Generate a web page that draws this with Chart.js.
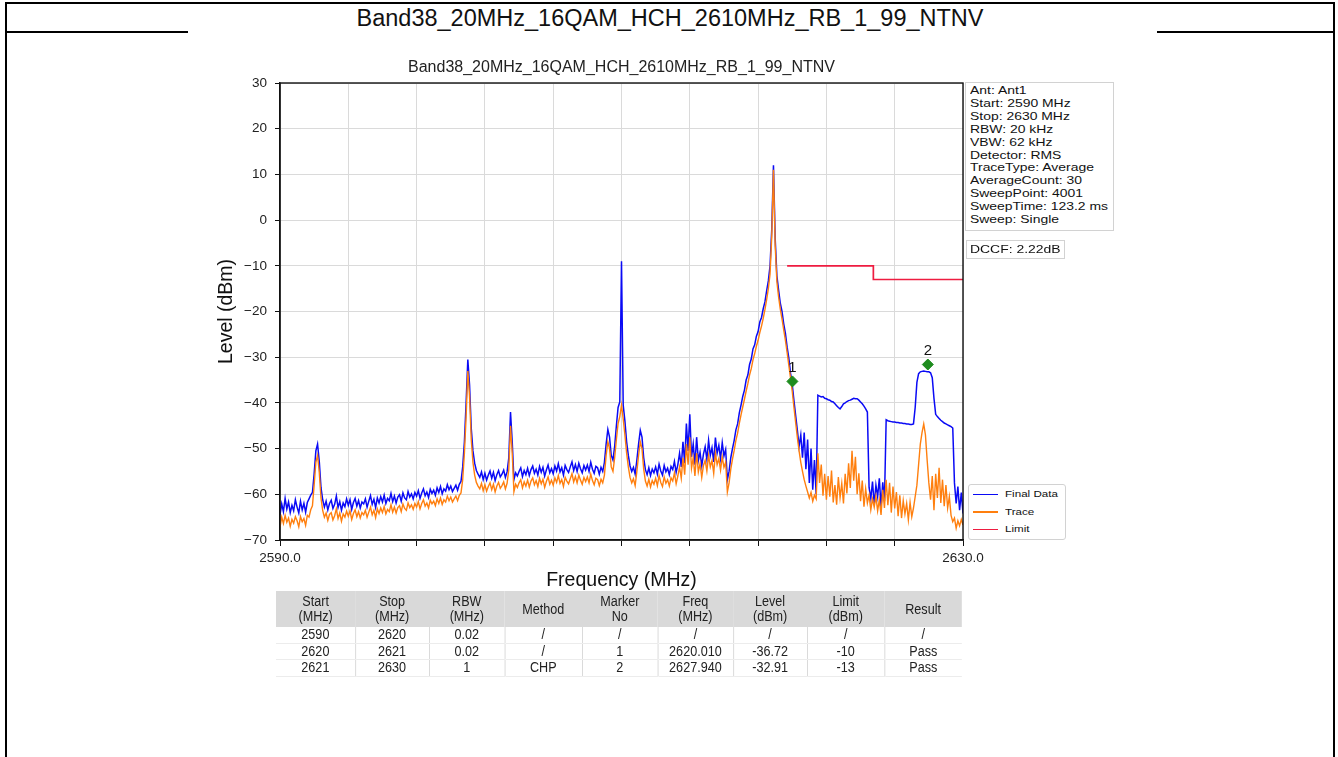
<!DOCTYPE html>
<html>
<head>
<meta charset="utf-8">
<title>Band38_20MHz_16QAM_HCH_2610MHz_RB_1_99_NTNV</title>
<script src="https://cdn.jsdelivr.net/npm/chart.js@4.4.1/dist/chart.umd.min.js"></script>
<style>
    html, body { margin: 0; padding: 0; background: #fff; }
    body {
        width: 1338px; height: 757px; position: relative; overflow: hidden;
        font-family: "Liberation Sans", Arial, sans-serif; color: #111;
    }
    #chart { position: absolute; left: 0; top: 0; }
    .rule { position: absolute; background: #000; }

    #page-title {
        position: absolute; left: 7px; width: 1326px; top: 4px; height: 28px;
        line-height: 28px; text-align: center; font-size: 23.5px;
    }
    #chart-title {
        position: absolute; left: 280px; width: 683px; top: 57px;
        line-height: 20px; text-align: center; font-size: 16px; color: #222;
    }

    /* matplotlib side boxes — text in the picture is stretched sideways */
    .box { position: absolute; background: #fff; border: 1px solid #d2d2d2; }
    .stretch { position: absolute; transform: scaleX(1.29); transform-origin: 0 0; white-space: nowrap; }
    #info  { left: 965px; top: 82px; width: 147px; height: 147px; }
    #info .stretch { left: 3.5px; top: 1.4px; font-size: 10.8px; line-height: 12.84px; }
    #dccf  { left: 966px; top: 240px; width: 97px; height: 17px; }
    #dccf .stretch { left: 3px; top: 0; font-size: 10.8px; line-height: 17px; }
    #legend { left: 968px; top: 484px; width: 96px; height: 54px; border-radius: 3px; }
    .leg-row { position: absolute; left: 4px; height: 12px; }
    .leg-line { position: absolute; left: 0; top: 5.5px; width: 25px; height: 1.4px; }
    .leg-row .stretch { left: 32px; top: 0; font-size: 9px; line-height: 12px; }

    /* result table under the plot */
    #tbl {
        position: absolute; left: 276px; top: 591px; width: 762px;
        transform: scaleX(0.9); transform-origin: 0 0;
        border-collapse: collapse; table-layout: fixed;
        font-size: 14px; color: #222;
    }
    #tbl th {
        background: #d9d9d9; font-weight: normal; height: 36px;
        padding: 0; line-height: 15px; text-align: center;
    }
    #tbl td {
        height: 15.5px; line-height: 15.5px; padding: 0; text-align: center;
        border-left: 1px solid #d6d6d6; border-bottom: 1px solid #ececec;
    }
    #tbl td:first-child { border-left: none; }
</style>
</head>
<body>

<div class="rule" style="left:5px; top:2px; width:1330px; height:2px"></div>
<div class="rule" style="left:5px; top:2px; width:2px; height:755px"></div>
<div class="rule" style="left:1333px; top:2px; width:2px; height:755px"></div>
<div class="rule" style="left:5px; top:31px; width:183px; height:1.5px"></div>
<div class="rule" style="left:1157px; top:31px; width:178px; height:1.5px"></div>
<div id="page-title">Band38_20MHz_16QAM_HCH_2610MHz_RB_1_99_NTNV</div>

<canvas id="chart" width="1338" height="757"></canvas>

<div id="chart-title">Band38_20MHz_16QAM_HCH_2610MHz_RB_1_99_NTNV</div>

<div id="info" class="box"><div class="stretch" id="info-text"></div></div>
<div id="dccf" class="box"><div class="stretch">DCCF: 2.22dB</div></div>
<div id="legend" class="box"></div>

<table id="tbl">
    <colgroup>
        <col style="width:88px"><col style="width:82px"><col style="width:84px">
        <col style="width:86px"><col style="width:84px"><col style="width:84px">
        <col style="width:82px"><col style="width:86px"><col style="width:86px">
    </colgroup>
    <thead>
        <tr>
            <th>Start<br>(MHz)</th><th>Stop<br>(MHz)</th><th>RBW<br>(MHz)</th>
            <th>Method</th><th>Marker<br>No</th><th>Freq<br>(MHz)</th>
            <th>Level<br>(dBm)</th><th>Limit<br>(dBm)</th><th>Result</th>
        </tr>
    </thead>
    <tbody>
        <tr><td>2590</td><td>2620</td><td>0.02</td><td>/</td><td>/</td><td>/</td><td>/</td><td>/</td><td>/</td></tr>
        <tr><td>2620</td><td>2621</td><td>0.02</td><td>/</td><td>1</td><td>2620.010</td><td>-36.72</td><td>-10</td><td>Pass</td></tr>
        <tr><td>2621</td><td>2630</td><td>1</td><td>CHP</td><td>2</td><td>2627.940</td><td>-32.91</td><td>-13</td><td>Pass</td></tr>
    </tbody>
</table>

<script>
// ── Data ─────────────────────────────────────────────────────────────────────
// Sweep is 2590 → 2630 MHz; values below are read off the picture every 0.1 MHz.

const START_MHZ = 2590;
const STEP_MHZ  = 0.1;

// "Final Data" (blue), one row per MHz
const finalData = [
    -64.5, -62.1, -63.8, -60.9, -63.2, -61.7, -64.0, -62.4, -63.6, -61.2,   // 2590
    -62.8, -64.1, -61.5, -63.4, -62.0, -63.9, -61.8, -61.0, -60.2, -59.6,   // 2591
    -55.5, -50.5, -49.0, -52.8, -58.5, -61.2, -62.8, -61.5, -63.4, -62.0,   // 2592
    -61.3, -63.1, -62.2, -60.4, -62.9, -61.6, -63.5, -61.9, -62.7, -61.0,   // 2593
    -62.4, -61.2, -63.3, -61.8, -60.9, -62.6, -61.4, -63.0, -61.7, -62.1,   // 2594
    -61.0, -62.8, -61.5, -60.3, -62.2, -61.1, -62.9, -60.8, -61.9, -60.5,   // 2595
    -61.7, -60.2, -62.0, -60.9, -61.4, -59.8, -61.6, -60.4, -61.9, -60.6,   // 2596
    -60.1, -61.5, -59.7, -60.8, -61.2, -59.4, -60.6, -59.9, -61.0, -59.6,   // 2597
    -60.4, -59.2, -60.9, -59.7, -58.8, -60.3, -59.5, -60.7, -58.9, -59.8,   // 2598
    -59.1, -60.2, -58.6, -59.6, -58.3, -59.9, -58.8, -59.3, -57.9, -59.0,   // 2599
    -58.2, -59.4, -58.7, -58.0, -59.1, -57.8, -57.2, -54.0, -48.5, -40.0,   // 2600
    -30.5, -36.0, -45.5, -50.5, -53.2, -54.8, -55.6, -56.3, -55.1, -56.8,   // 2601
    -55.4, -56.9, -55.8, -54.9, -56.5, -55.2, -57.0, -55.7, -54.8, -56.2,   // 2602
    -55.6, -54.7, -56.3, -55.1, -52.0, -42.0, -48.5, -56.8, -55.3, -56.0,   // 2603
    -55.0, -54.2, -56.1, -54.8, -55.7, -54.3, -55.9, -54.6, -53.8, -55.4,   // 2604
    -54.5, -55.8, -53.9, -55.2, -54.1, -56.0, -54.7, -53.6, -55.3, -54.4,   // 2605
    -55.5, -53.8, -54.9, -53.3, -55.1, -54.2, -55.8, -53.7, -54.6, -55.2,   // 2606
    -54.0, -52.9, -54.8, -53.5, -55.0, -53.2, -54.4, -55.3, -53.7, -54.7,   // 2607
    -53.6, -55.0, -53.0, -54.5, -55.4, -53.9, -54.2, -55.6, -54.1, -55.0,   // 2608
    -53.0, -49.0, -45.8, -47.5, -51.5, -52.5, -49.5, -45.0, -41.0, -39.8,   // 2609
     -9.0, -40.5, -44.0, -48.5, -51.5, -53.8, -55.0, -54.1, -55.6, -52.5,   // 2610
    -49.0, -46.0, -47.5, -52.0, -54.6, -55.7, -54.2, -55.9, -54.5, -55.3,   // 2611
    -54.0, -55.6, -53.4, -54.9, -55.8, -53.7, -55.1, -54.3, -55.7, -53.9,   // 2612
    -54.6, -52.8, -55.2, -53.5, -51.0, -54.0, -48.5, -53.2, -44.5, -50.5,   // 2613
    -42.5, -51.8, -49.0, -53.5, -47.5, -52.6, -50.8, -53.8, -51.2, -49.6,   // 2614
    -52.4, -48.2, -51.5, -49.8, -52.9, -47.6, -51.0, -49.3, -52.2, -48.7,   // 2615
    -51.6, -50.2, -56.8, -55.0, -52.0, -50.0, -48.2, -45.9, -44.6, -42.2,   // 2616
    -40.5, -38.6, -37.2, -35.0, -33.9, -31.6, -30.4, -28.2, -27.3, -25.4,   // 2617
    -24.4, -22.3, -21.3, -19.4, -17.9, -15.5, -13.3, -10.0,  -2.0,  12.0,   // 2618
     -4.0, -12.2, -15.3, -18.2, -20.0, -22.7, -24.8, -27.8, -30.2, -33.5,   // 2619
    -36.0, -39.5, -42.8, -46.0, -49.5, -47.0, -52.0, -46.5, -54.5, -48.0,   // 2620
    -57.5, -50.0, -59.0, -52.5, -60.0, -38.3, -38.5, -38.7, -38.6, -39.0,   // 2621
    -39.1, -39.3, -39.4, -39.7, -39.8, -40.2, -40.6, -41.0, -41.3, -40.8,   // 2622
    -40.2, -40.0, -39.7, -39.5, -39.4, -39.2, -39.0, -39.1, -39.1, -39.4,   // 2623
    -39.8, -40.2, -40.7, -41.3, -42.0, -58.5, -61.0, -57.2, -62.3, -58.0,   // 2624
    -60.5, -56.5, -62.8, -57.4, -61.5, -43.7, -43.9, -44.0, -44.1, -44.2,   // 2625
    -44.2, -44.3, -44.3, -44.4, -44.4, -44.5, -44.5, -44.6, -44.6, -44.7,   // 2626
    -44.7, -44.6, -41.0, -35.5, -33.6, -33.2, -33.1, -33.0, -33.1, -33.2,   // 2627
    -33.2, -33.4, -34.5, -39.0, -42.5, -43.0, -43.4, -43.8, -44.1, -44.4,   // 2628
    -44.6, -44.8, -45.0, -45.2, -45.5, -57.5, -62.0, -58.3, -63.5, -59.6,   // 2629
    -64.2                                                                   // 2630
];

// "Trace" (orange), same sweep points
const traceData = [
    -67.2, -65.0, -66.4, -64.6, -66.1, -65.2, -67.0, -65.5, -66.3, -64.9,   // 2590
    -65.8, -67.1, -64.9, -66.0, -65.3, -66.8, -64.6, -65.0, -63.4, -62.5,   // 2591
    -58.0, -53.0, -51.5, -55.2, -60.8, -63.5, -65.0, -64.1, -65.7, -64.4,   // 2592
    -64.0, -65.6, -64.7, -63.2, -65.3, -64.1, -65.9, -64.3, -65.0, -63.7,   // 2593
    -64.8, -63.6, -65.5, -64.2, -63.4, -64.9, -63.8, -65.2, -64.0, -64.5,   // 2594
    -63.5, -65.0, -63.9, -62.8, -64.5, -63.5, -65.1, -63.2, -64.2, -63.0,   // 2595
    -64.0, -62.7, -64.3, -63.3, -63.8, -62.3, -63.9, -62.8, -64.1, -62.9,   // 2596
    -62.5, -63.8, -62.1, -63.1, -63.5, -61.9, -62.9, -62.3, -63.3, -62.0,   // 2597
    -62.8, -61.6, -63.2, -62.0, -61.2, -62.6, -61.9, -63.0, -61.3, -62.1,   // 2598
    -61.5, -62.5, -61.0, -62.0, -60.8, -62.2, -61.2, -61.7, -60.4, -61.4,   // 2599
    -60.6, -61.7, -61.0, -60.4, -61.4, -60.2, -59.7, -56.8, -51.0, -43.0,   // 2600
    -33.0, -38.5, -48.0, -53.0, -55.8, -57.4, -58.2, -58.8, -57.6, -59.2,   // 2601
    -57.9, -59.3, -58.3, -57.5, -59.0, -57.8, -59.5, -58.2, -57.4, -58.7,   // 2602
    -58.1, -57.3, -58.8, -57.6, -54.5, -45.0, -51.0, -59.4, -57.8, -58.5,   // 2603
    -57.5, -56.8, -58.6, -57.3, -58.2, -56.9, -58.4, -57.1, -56.4, -57.9,   // 2604
    -57.0, -58.3, -56.5, -57.7, -56.7, -58.5, -57.2, -56.2, -57.8, -56.9,   // 2605
    -58.0, -56.4, -57.4, -55.9, -57.6, -56.8, -58.3, -56.3, -57.1, -57.7,   // 2606
    -56.6, -55.5, -57.3, -56.1, -57.5, -55.8, -56.9, -57.8, -56.3, -57.2,   // 2607
    -56.2, -57.5, -55.6, -57.0, -57.9, -56.5, -56.8, -58.1, -56.7, -57.5,   // 2608
    -55.8, -51.5, -48.5, -50.0, -54.0, -55.0, -52.0, -48.0, -44.5, -43.0,   // 2609
    -40.5, -43.5, -47.0, -51.0, -54.0, -56.3, -57.5, -56.6, -58.1, -55.0,   // 2610
    -51.5, -48.5, -50.0, -54.5, -57.1, -58.2, -56.7, -58.4, -57.0, -57.8,   // 2611
    -56.5, -58.1, -55.9, -57.4, -58.3, -56.2, -57.6, -56.8, -58.2, -56.4,   // 2612
    -57.1, -55.3, -57.7, -56.0, -54.0, -56.5, -52.0, -55.7, -49.0, -53.5,   // 2613
    -47.5, -54.3, -52.0, -56.0, -51.0, -55.1, -53.3, -56.3, -53.7, -52.6,   // 2614
    -54.9, -51.5, -54.0, -52.6, -55.4, -51.0, -53.5, -52.2, -54.7, -51.8,   // 2615
    -54.1, -53.0, -59.5, -57.5, -54.5, -52.3, -50.4, -48.2, -46.6, -44.5,   // 2616
    -42.6, -40.9, -39.2, -37.4, -35.8, -33.9, -32.5, -30.6, -29.2, -27.6,   // 2617
    -26.3, -24.6, -23.2, -21.5, -19.6, -17.4, -15.0, -11.8,  -3.5,  11.0,   // 2618
     -5.5, -13.5, -16.8, -19.5, -21.6, -24.0, -26.3, -29.0, -31.8, -34.6,   // 2619
    -37.5, -41.0, -44.3, -47.6, -50.5, -53.0, -55.0, -56.8, -58.2, -59.5,   // 2620
    -60.8, -59.6, -61.5, -60.2, -61.0, -51.0, -57.5, -53.5, -60.3, -55.5,   // 2621
    -61.2, -56.0, -60.5, -54.8, -61.8, -58.0, -62.3, -56.2, -60.7, -57.6,   // 2622
    -62.0, -55.5, -59.8, -53.2, -58.6, -50.5, -57.0, -51.8, -60.0, -55.4,   // 2623
    -61.5, -57.0, -62.7, -58.8, -61.9, -60.2, -63.4, -61.0, -62.8, -60.4,   // 2624
    -63.6, -61.2, -64.5, -59.0, -63.0, -56.8, -62.4, -57.5, -64.0, -58.3,   // 2625
    -63.1, -59.5, -64.8, -60.2, -65.2, -61.4, -64.3, -62.0, -65.6, -61.8,   // 2626
    -64.9, -63.0, -60.5, -58.0, -53.5, -49.0, -46.5, -44.6, -47.0, -52.5,   // 2627
    -57.5, -61.2, -56.0, -63.5, -55.5, -60.8, -54.2, -61.9, -56.8, -62.6,   // 2628
    -58.0, -63.0, -60.5, -64.6, -66.0, -65.2, -67.4, -65.8, -66.9, -65.5,   // 2629
    -66.7                                                                   // 2630
];

// sweep frequencies (x axis) for the two traces
const freqs = finalData.map((_, i) => +(START_MHZ + i * STEP_MHZ).toFixed(1));

// limit mask as drawn (step down near 2625 MHz)
const limitFreq  = [2619.7, 2624.75, 2624.75, 2630];
const limitLevel = [-10, -10, -13, -13];

// peak markers as drawn on the plot
const markerNo    = ["1", "2"];
const markerFreq  = [2620.01, 2627.94];
const markerLevel = [-35.3, -31.6];

// axes
const xRange = [2590, 2630];
const xStep  = 4;
const yRange = [-70, 30];
const yStep  = 10;

const infoLines = [
    "Ant: Ant1", "Start: 2590 MHz", "Stop: 2630 MHz", "RBW: 20 kHz", "VBW: 62 kHz",
    "Detector: RMS", "TraceType: Average", "AverageCount: 30", "SweepPoint: 4001",
    "SweepTime: 123.2 ms", "Sweep: Single",
];

// ── Colours ──────────────────────────────────────────────────────────────────

const BLUE   = "#0a0af5";
const ORANGE = "#ff7f0e";
const RED    = "#ee1c40";
const GREEN  = "#1e8c1e";

// ── Helpers ──────────────────────────────────────────────────────────────────

// pair up an x list and a y list into Chart.js points
const pts = (xs, ys) => xs.map((x, i) => ({ x, y: ys[i] }));

const FONT = '"Liberation Sans", Arial, sans-serif';

// ── Plot frame + marker numbers ──────────────────────────────────────────────

const overlay = {
    id: "overlay",
    afterDraw(chart) {
        const { ctx, chartArea: a, scales: { x, y } } = chart;
        ctx.save();
        ctx.strokeStyle = "#111";
        ctx.lineWidth = 1.4;
        ctx.strokeRect(a.left, a.top, a.right - a.left, a.bottom - a.top);

        ctx.font = `15px ${FONT}`;
        ctx.fillStyle = "#111";
        ctx.textAlign = "center";
        ctx.textBaseline = "middle";
        markerFreq.forEach((f, i) => {
            ctx.fillText(markerNo[i], x.getPixelForValue(f), y.getPixelForValue(markerLevel[i]) - 14);
        });
        ctx.restore();
    },
};

// ── Chart ────────────────────────────────────────────────────────────────────

Chart.defaults.font.family = FONT;
Chart.defaults.color = "#111";

const line = (label, data, color, width, order) => ({
    label, data, order,
    borderColor: color, backgroundColor: color,
    borderWidth: width, pointRadius: 0, tension: 0, fill: false,
});

const chart = new Chart(document.getElementById("chart"), {
    type: "line",
    data: {
        datasets: [
            line("Final Data", pts(freqs, finalData), BLUE, 1.5, 2),
            line("Trace",      pts(freqs, traceData), ORANGE, 1.4, 1),
            line("Limit",      pts(limitFreq, limitLevel), RED, 1.7, 0),
            {
                label: "Marker",
                data: pts(markerFreq, markerLevel),
                showLine: false,
                pointStyle: "rectRot",
                pointRadius: 5.5,
                backgroundColor: GREEN,
                borderColor: GREEN,
                order: -1,
            },
        ],
    },
    options: {
        responsive: false,
        animation: false,
        devicePixelRatio: 1,
        layout: { padding: { left: 188, right: 375, top: 83, bottom: 165 } },
        plugins: { legend: { display: false }, tooltip: { enabled: false } },
        scales: {
            x: {
                type: "linear",
                min: xRange[0], max: xRange[1],
                ticks: {
                    stepSize: xStep, autoSkip: false, maxRotation: 0, padding: 4,
                    font: { size: 13.5 }, color: "#222",
                    // only the two ends are labelled
                    callback: v => (v === xRange[0] || v === xRange[1]) ? v.toFixed(1) : "",
                },
                grid:   { color: "#dadada", lineWidth: 1, tickColor: "#111", tickLength: 6 },
                border: { color: "#111", width: 1.4 },
                title:  { display: true, text: "Frequency (MHz)", font: { size: 19.5 }, color: "#111",
                          padding: { top: 0, bottom: 0 } },
                afterFit: s => { s.height = 52; },
            },
            y: {
                min: yRange[0], max: yRange[1],
                ticks: {
                    stepSize: yStep, padding: 8,
                    font: { size: 13.5 }, color: "#222",
                    callback: v => String(v).replace("-", "\u2212"),
                },
                grid:   { color: "#dadada", lineWidth: 1, tickColor: "#111", tickLength: 5 },
                border: { color: "#111", width: 1.4 },
                title:  { display: true, text: "Level (dBm)", font: { size: 19.5 }, color: "#111",
                          padding: { top: 27, bottom: 0 } },
                afterFit: s => { s.width = 92; },
            },
        },
    },
    plugins: [overlay],
});

// ── Side boxes ───────────────────────────────────────────────────────────────

document.getElementById("info-text").innerHTML = infoLines.map(t => `<div>${t}</div>`).join("");

// legend built from the plotted line datasets
document.getElementById("legend").innerHTML = chart.data.datasets
    .filter(d => d.label !== "Marker")
    .map((d, i) => `
        <div class="leg-row" style="top:${3.3 + i * 17.5}px">
            <div class="leg-line" style="background:${d.borderColor}"></div>
            <div class="stretch">${d.label}</div>
        </div>`)
    .join("");
</script>
</body>
</html>
